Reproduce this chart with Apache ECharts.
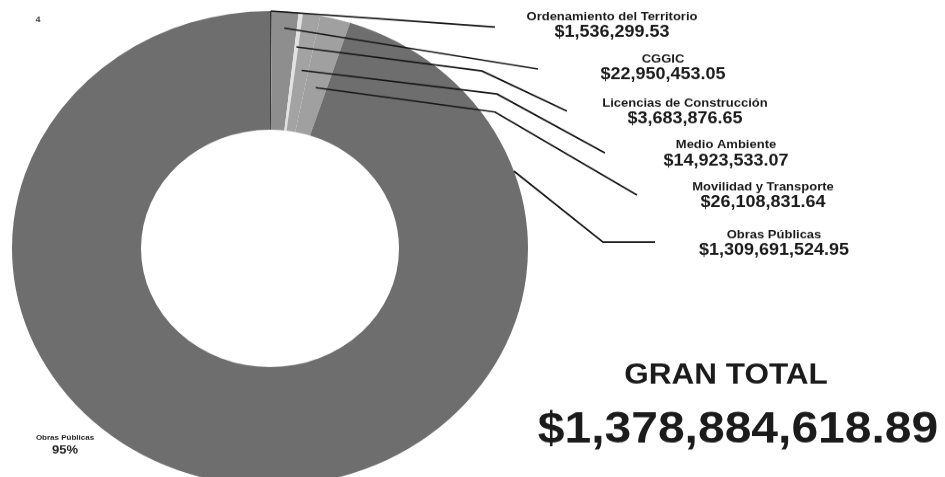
<!DOCTYPE html>
<html>
<head>
<meta charset="utf-8">
<script src="https://cdn.jsdelivr.net/npm/echarts@6/dist/echarts.min.js"></script>
<style>
  html, body { margin: 0; padding: 0; background: #ffffff; overflow: hidden; width: 945px; height: 477px; }
  #chart { width: 945px; height: 519px; transform: scaleY(0.92); transform-origin: 0 0; }
</style>
</head>
<body>
<div id="chart"></div>
<script>
// ---- data ----
const categories = [
  'Ordenamiento del Territorio',
  'CGGIC',
  'Licencias de Construcción',
  'Medio Ambiente',
  'Movilidad y Transporte',
  'Obras Públicas'
];
const amounts = [1536299.53, 22950453.05, 3683876.65, 14923533.07, 26108831.64, 1309691524.95];
const grandTotalLabel = 'GRAN TOTAL';
const grandTotalValue = 1378884618.89;
const pageNumber = '4';

// ---- styling / layout (screen coordinates of the reference) ----
const sliceColors = ['#3a3a3a', '#8e8e8e', '#e2e2e2', '#a3a3a3', '#a0a0a0', '#6e6e6e'];
const SY = 0.92;
const CX = 270, CY = 270, R_IN = 129, R_OUT = 258;
const labelLayoutCfg = [
  { cx: 612, ny: 17,  k: 1.0,  elbow: null,      end: [495, 27] },
  { cx: 663, ny: 59,  k: 0.93, elbow: null,      end: [538, 69] },
  { cx: 685, ny: 103, k: 0.855, elbow: [482, 71], end: [567, 111] },
  { cx: 726, ny: 145, k: 0.76, elbow: [497, 94], end: [605, 153] },
  { cx: 763, ny: 187, k: 0.70, elbow: [495, 112], end: [637, 195] },
  { cx: 774, ny: 235, k: 1.0,  angle: 71, elbow: [603, 242], end: [655, 242] }
];

const fmtMoney = v => '$' + v.toLocaleString('en-US', { minimumFractionDigits: 2, maximumFractionDigits: 2 });
const total = amounts.reduce((a, b) => a + b, 0);
const midAngles = [];
(function () {
  let cum = 0;
  amounts.forEach(v => { midAngles.push((cum + v / 2) / total * 360); cum += v; });
})();
const mainIdx = amounts.indexOf(Math.max.apply(null, amounts));
const mainPct = Math.round(amounts[mainIdx] / total * 100) + '%';

const FONT = "'Liberation Sans', Arial, Helvetica, sans-serif";
const TXT = '#1b1b1b';

const baseSeries = {
  type: 'pie',
  center: [CX, CY],
  radius: [R_IN, R_OUT],
  startAngle: 90,
  clockwise: true,
  avoidLabelOverlap: false,
  silent: true,
  emphasis: { disabled: true, scale: false },
  itemStyle: { borderWidth: 0 }
};

const chart = echarts.init(document.getElementById('chart'), null, { renderer: 'canvas' });
chart.setOption({
  animation: false,
  backgroundColor: '#ffffff',
  graphic: [
    { type: 'text', x: 38, y: 20 / SY, style: { text: pageNumber, fill: '#444', font: 'bold 9px ' + FONT, align: 'center', verticalAlign: 'middle' } },
    { type: 'text', x: 65, y: 438 / SY, style: { text: categories[mainIdx], fill: '#222', font: 'bold 8px ' + FONT, align: 'center', verticalAlign: 'middle' } },
    { type: 'text', x: 65, y: 450 / SY, style: { text: mainPct, fill: '#222', font: 'bold 13px ' + FONT, align: 'center', verticalAlign: 'middle' } },
    { type: 'text', x: 726, y: 376 / SY, style: { text: grandTotalLabel, fill: TXT, font: 'bold 31.5px ' + FONT, align: 'center', verticalAlign: 'middle' } },
    { type: 'text', x: 738, y: 430 / SY, style: { text: fmtMoney(grandTotalValue), fill: TXT, font: 'bold 48px ' + FONT, align: 'center', verticalAlign: 'middle' } }
  ],
  series: [
    Object.assign({}, baseSeries, {
      z: 2,
      data: categories.map((c, i) => ({ name: c, value: amounts[i], itemStyle: { color: sliceColors[i] } })),
      label: { show: false },
      labelLine: { show: false }
    }),
    Object.assign({}, baseSeries, {
      z: 5,
      data: categories.map((c, i) => ({ name: c, value: amounts[i], itemStyle: { color: 'rgba(0,0,0,0)' } })),
      label: {
        show: true,
        position: 'outside',
        formatter: p => '{n|' + p.name + '}\n{v|' + fmtMoney(p.value) + '}',
        rich: {
          n: { fontFamily: FONT, fontWeight: 'bold', fontSize: 13, lineHeight: 16, color: TXT, align: 'center' },
          v: { fontFamily: FONT, fontWeight: 'bold', fontSize: 18, lineHeight: 18, color: TXT, align: 'center' }
        }
      },
      labelLine: {
        show: true,
        smooth: false,
        length: 10,
        length2: 10,
        lineStyle: { color: '#151515', width: 1.7 }
      },
      labelLayout: function (p) {
        const L = labelLayoutCfg[p.dataIndex];
        const ang = (L.angle != null ? L.angle : midAngles[p.dataIndex]) * Math.PI / 180;
        const sx = CX + R_OUT * L.k * Math.sin(ang);
        const sy = CY - R_OUT * L.k * Math.cos(ang);
        const end = [L.end[0], L.end[1] / SY];
        const mid = L.elbow ? [L.elbow[0], L.elbow[1] / SY] : [(sx + end[0]) / 2, (sy + end[1]) / 2];
        return {
          x: L.cx,
          y: L.ny / SY - 8,
          align: 'center',
          verticalAlign: 'top',
          labelLinePoints: [[sx, sy], mid, end]
        };
      }
    })
  ]
});
</script>
</body>
</html>
